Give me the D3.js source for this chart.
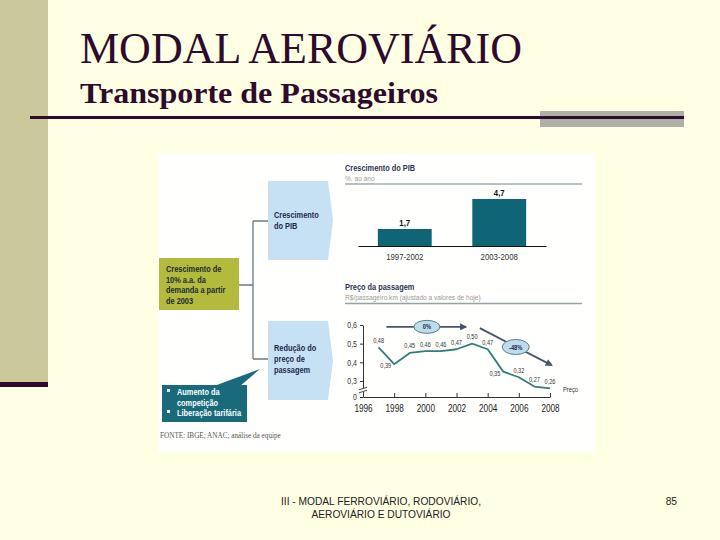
<!DOCTYPE html>
<html><head><meta charset="utf-8">
<script src="https://cdn.jsdelivr.net/npm/d3@7"></script>
<style>
html,body{margin:0;padding:0;background:#FFFFE3;}
svg{display:block;}
</style></head>
<body>
<svg id="c" width="720" height="540"></svg>
<script>
// ---- data ----
const barCategories = ["1997-2002", "2003-2008"];
const barValues = [1.7, 4.7];
const years = [1997, 1998, 1999, 2000, 2001, 2002, 2003, 2004, 2005, 2006, 2007, 2008];
const prices = [0.48, 0.39, 0.45, 0.46, 0.46, 0.47, 0.50, 0.47, 0.35, 0.32, 0.27, 0.26];
const yearTicks = [1996, 1998, 2000, 2002, 2004, 2006, 2008];
const priceTicks = [0.214, 0.3, 0.4, 0.5, 0.6];
const trendLabels = ["0%", "-48%"];
const trendFrom = [[1997.5, 0.59], [2003.5, 0.583]];
const trendTo = [[2002.6, 0.59], [2008.1, 0.385]];
const trendAt = [[2000.1, 0.59], [2005.8, 0.482]];
const titleText = "MODAL AEROVIÁRIO";
const subtitleText = "Transporte de Passageiros";
const footerLines = ["III - MODAL FERROVIÁRIO, RODOVIÁRIO,", "AEROVIÁRIO E DUTOVIÁRIO"];
const pageNumber = "85";

const loc = d3.formatLocale({decimal: ",", thousands: ".", grouping: [3], currency: ["R$", ""]});
const f1 = loc.format(".1f"), f2 = loc.format(".2f");

const svg = d3.select("#c");
const NAR = '"Liberation Sans",Arial,sans-serif';
const SERIF = '"Liberation Serif","Times New Roman",serif';

// ---- slide frame ----
svg.append("rect").attr("x", 0).attr("y", 0).attr("width", 720).attr("height", 540).attr("fill", "#FFFFE3");
svg.append("rect").attr("x", 0).attr("y", 0).attr("width", 48).attr("height", 382).attr("fill", "#CBC99B");
svg.append("rect").attr("x", 0).attr("y", 382).attr("width", 48).attr("height", 5).attr("fill", "#2E0A2C");
svg.append("rect").attr("x", 540).attr("y", 111).attr("width", 144).attr("height", 16).attr("fill", "#AFAFA8");
svg.append("line").attr("x1", 30).attr("x2", 684).attr("y1", 117.5).attr("y2", 117.5)
  .attr("stroke", "#2E0A2C").attr("stroke-width", 3);

svg.append("text").attr("x", 80).attr("y", 63).text(titleText)
  .attr("font-family", SERIF).attr("font-size", 43.5).attr("fill", "#2E0A2C")
  .attr("textLength", 442).attr("lengthAdjust", "spacingAndGlyphs");
svg.append("text").attr("x", 80).attr("y", 103).text(subtitleText)
  .attr("font-family", SERIF).attr("font-size", 30).attr("font-weight", "bold").attr("fill", "#2E0A2C")
  .attr("textLength", 358).attr("lengthAdjust", "spacingAndGlyphs");

const ft = svg.append("g").attr("font-family", '"Liberation Sans",Arial,sans-serif').attr("font-size", 10.2).attr("fill", "#222");
footerLines.forEach((t, i) => ft.append("text").attr("x", 381).attr("y", 505 + i * 13).attr("text-anchor", "middle").text(t));
ft.append("text").attr("x", 677).attr("y", 505).attr("text-anchor", "end").text(pageNumber);

// ---- embedded picture ----
svg.append("rect").attr("x", 158).attr("y", 153).attr("width", 437).attr("height", 299).attr("fill", "#FFFFFD");

// left diagram
const dg = svg.append("g").attr("font-family", NAR).attr("font-weight", "bold").attr("font-size", 9);
dg.append("path").attr("d", "M239,285H253M253,221V359M253,221H268M253,359H268")
  .attr("fill", "none").attr("stroke", "#6B7B80").attr("stroke-width", 1.3);
dg.append("rect").attr("x", 159).attr("y", 258).attr("width", 80).attr("height", 52).attr("fill", "#B3BA3C");
["Crescimento de", "10% a.a. da", "demanda a partir", "de 2003"].forEach((t, i) =>
  dg.append("text").attr("class", "nar").attr("x", 166).attr("y", 272 + i * 10.5).attr("fill", "#1C2A3C").text(t));
function chevron(y0, y1) {
  const m = (y0 + y1) / 2;
  return `M268,${y0}H328L333,${m}L328,${y1}H268Z`;
}
dg.append("path").attr("d", chevron(181, 260)).attr("fill", "#C7E1F4");
dg.append("path").attr("d", chevron(321, 400)).attr("fill", "#C7E1F4");
["Crescimento", "do PIB"].forEach((t, i) =>
  dg.append("text").attr("class", "nar").attr("x", 274).attr("y", 218 + i * 11).attr("fill", "#1C2A4A").text(t));
["Redução do", "preço de", "passagem"].forEach((t, i) =>
  dg.append("text").attr("class", "nar").attr("x", 274).attr("y", 351 + i * 11).attr("fill", "#1C2A4A").text(t));
dg.append("path").attr("d", "M214,386L260,369L240,386Z").attr("fill", "#196B7B");
dg.append("rect").attr("x", 162).attr("y", 385).attr("width", 85).attr("height", 37).attr("fill", "#196B7B");
[["▪", "Aumento da"], ["", "competição"], ["▪", "Liberação tarifária"]].forEach((t, i) => {
  if (t[0]) dg.append("rect").attr("x", 167).attr("y", 389 + i * 10.5).attr("width", 3).attr("height", 3).attr("fill", "#fff");
  dg.append("text").attr("class", "nar").attr("x", 177).attr("y", 395 + i * 10.5).attr("fill", "#fff").text(t[1]);
});
svg.append("text").attr("x", 160).attr("y", 438).attr("font-family", SERIF).attr("font-size", 7.2)
  .attr("fill", "#555").text("FONTE: IBGE; ANAC; análise da equipe");

// ---- bar chart ----
const bg = svg.append("g").attr("font-family", NAR);
bg.append("text").attr("class", "nar").attr("x", 345).attr("y", 171).attr("font-size", 9).attr("font-weight", "bold").attr("fill", "#2B3552").text("Crescimento do PIB");
bg.append("text").attr("class", "nar").attr("x", 345).attr("y", 181).attr("font-size", 8).attr("fill", "#9A9A9A").text("%, ao ano");
bg.append("line").attr("x1", 345).attr("x2", 582).attr("y1", 184).attr("y2", 184).attr("stroke", "#6F8288").attr("stroke-width", 1.2);

const xb = d3.scaleBand().domain(barCategories).range([358, 546]).paddingInner(0.43).paddingOuter(0.21);
const yb = d3.scaleLinear().domain([0, 5]).range([246, 196]);
bg.selectAll("rect.bar").data(barValues).join("rect").attr("class", "bar")
  .attr("x", (d, i) => xb(barCategories[i])).attr("width", xb.bandwidth())
  .attr("y", d => yb(d)).attr("height", d => yb(0) - yb(d)).attr("fill", "#0F6475");
bg.selectAll("text.bv").data(barValues).join("text").attr("class", "bv nar")
  .attr("x", (d, i) => xb(barCategories[i]) + xb.bandwidth() / 2).attr("y", d => yb(d) - 3)
  .attr("text-anchor", "middle").attr("font-size", 9.5).attr("font-weight", "bold").attr("fill", "#111")
  .text(d => f1(d));
const xbAxis = bg.append("g").attr("transform", `translate(0,${yb(0)})`)
  .call(d3.axisBottom(xb).tickSize(0).tickPadding(7));
xbAxis.select(".domain").attr("stroke", "#111").attr("stroke-width", 1.2);
xbAxis.selectAll("text").attr("class", "nar").attr("font-family", NAR).attr("font-size", 9.5).attr("fill", "#333");

// ---- line chart ----
const lg = svg.append("g").attr("font-family", NAR);
lg.append("text").attr("class", "nar").attr("x", 345).attr("y", 290).attr("font-size", 9).attr("font-weight", "bold").attr("fill", "#2B3552").text("Preço da passagem");
lg.append("text").attr("class", "nar").attr("x", 345).attr("y", 300).attr("font-size", 8).attr("fill", "#9A9A9A").text("R$/passageiro.km (ajustado a valores de hoje)");
lg.append("line").attr("x1", 345).attr("x2", 582).attr("y1", 303.5).attr("y2", 303.5).attr("stroke", "#93A3A3").attr("stroke-width", 1.5);

const xl = d3.scaleLinear().domain([1996, 2008]).range([363, 550]);
const yl = d3.scaleLinear().domain([0.214, 0.6]).range([397, 325]);

const yAx = lg.append("g").attr("transform", `translate(${xl(1996)},0)`)
  .call(d3.axisLeft(yl).tickValues(priceTicks).tickSizeInner(3).tickSizeOuter(0).tickPadding(3)
    .tickFormat(d => d < 0.25 ? "0" : f1(d)));
yAx.select(".domain").attr("stroke", "#333");
yAx.selectAll("line").attr("stroke", "#333");
yAx.selectAll("text").attr("class", "nar").attr("font-family", NAR).attr("font-size", 8.5).attr("fill", "#333");
// axis break mark
const xb0 = xl(1996), yb0 = yl(0.25);
lg.append("rect").attr("x", xb0 - 4).attr("y", yb0 - 2).attr("width", 8).attr("height", 3.5).attr("fill", "#FFFFFD");
lg.append("path").attr("d", `M${xb0 - 4},${yb0 - 0.5}L${xb0 + 4},${yb0 - 3}M${xb0 - 4},${yb0 + 2.5}L${xb0 + 4},${yb0}`)
  .attr("stroke", "#333").attr("fill", "none").attr("stroke-width", 0.9);

const xAx = lg.append("g").attr("transform", `translate(0,${yl(0.214)})`)
  .call(d3.axisBottom(xl).tickValues(yearTicks).tickSizeInner(-4).tickSizeOuter(0).tickPadding(8).tickFormat(d3.format("d")));
xAx.select(".domain").attr("stroke", "#333");
xAx.selectAll("line").attr("stroke", "#333");
xAx.selectAll("text").attr("class", "nar").attr("font-family", NAR).attr("font-size", 10).attr("fill", "#222");

// trend arrows
const defs = svg.append("defs");
defs.append("marker").attr("id", "ah").attr("viewBox", "0 0 10 10").attr("refX", 8).attr("refY", 5)
  .attr("markerWidth", 4).attr("markerHeight", 4).attr("orient", "auto")
  .append("path").attr("d", "M0,0L10,5L0,10Z").attr("fill", "#46566A");
trendLabels.forEach((lab, i) => {
  lg.append("line").attr("x1", xl(trendFrom[i][0])).attr("y1", yl(trendFrom[i][1]))
    .attr("x2", xl(trendTo[i][0])).attr("y2", yl(trendTo[i][1]))
    .attr("stroke", "#46566A").attr("stroke-width", 1.8).attr("marker-end", "url(#ah)");
  const rx = lab.length > 2 ? 13.5 : 13, ry = lab.length > 2 ? 7.5 : 6.5;
  lg.append("ellipse").attr("cx", xl(trendAt[i][0])).attr("cy", yl(trendAt[i][1])).attr("rx", rx).attr("ry", ry)
    .attr("fill", "#BEDDEC").attr("stroke", "#5D7C8C").attr("stroke-width", 1);
  lg.append("text").attr("class", "nar").attr("x", xl(trendAt[i][0])).attr("y", yl(trendAt[i][1]) + 2.5).attr("text-anchor", "middle")
    .attr("font-size", 7).attr("font-weight", "bold").attr("fill", "#1C2A4A").text(lab);
});

// price line
const line = d3.line().x((d, i) => xl(years[i])).y(d => yl(d));
lg.append("path").datum(prices).attr("d", line).attr("fill", "none")
  .attr("stroke", "#2F7F7B").attr("stroke-width", 1.8).attr("stroke-linejoin", "round");
const drop = (d, i) => i > 0 && prices[i - 1] - d > 0.07;
lg.selectAll("text.pl").data(prices).join("text").attr("class", "pl nar")
  .attr("x", (d, i) => drop(d, i) ? xl(years[i]) - 3 : xl(years[i]))
  .attr("y", (d, i) => drop(d, i) ? yl(d) + 4 : yl(d) - 4.5)
  .attr("text-anchor", (d, i) => drop(d, i) ? "end" : "middle")
  .attr("font-size", 6.8).attr("fill", "#333").text(d => f2(d));
lg.append("text").attr("class", "nar").attr("x", 563).attr("y", 391.5).attr("font-size", 7).attr("fill", "#333").text("Preço");

// condense sans text to mimic a narrow typeface
svg.selectAll("text.nar").each(function () {
  const w = this.getComputedTextLength();
  if (w > 0) {
    this.setAttribute("textLength", (w * 0.82).toFixed(2));
    this.setAttribute("lengthAdjust", "spacingAndGlyphs");
  }
});
</script>
</body></html>
